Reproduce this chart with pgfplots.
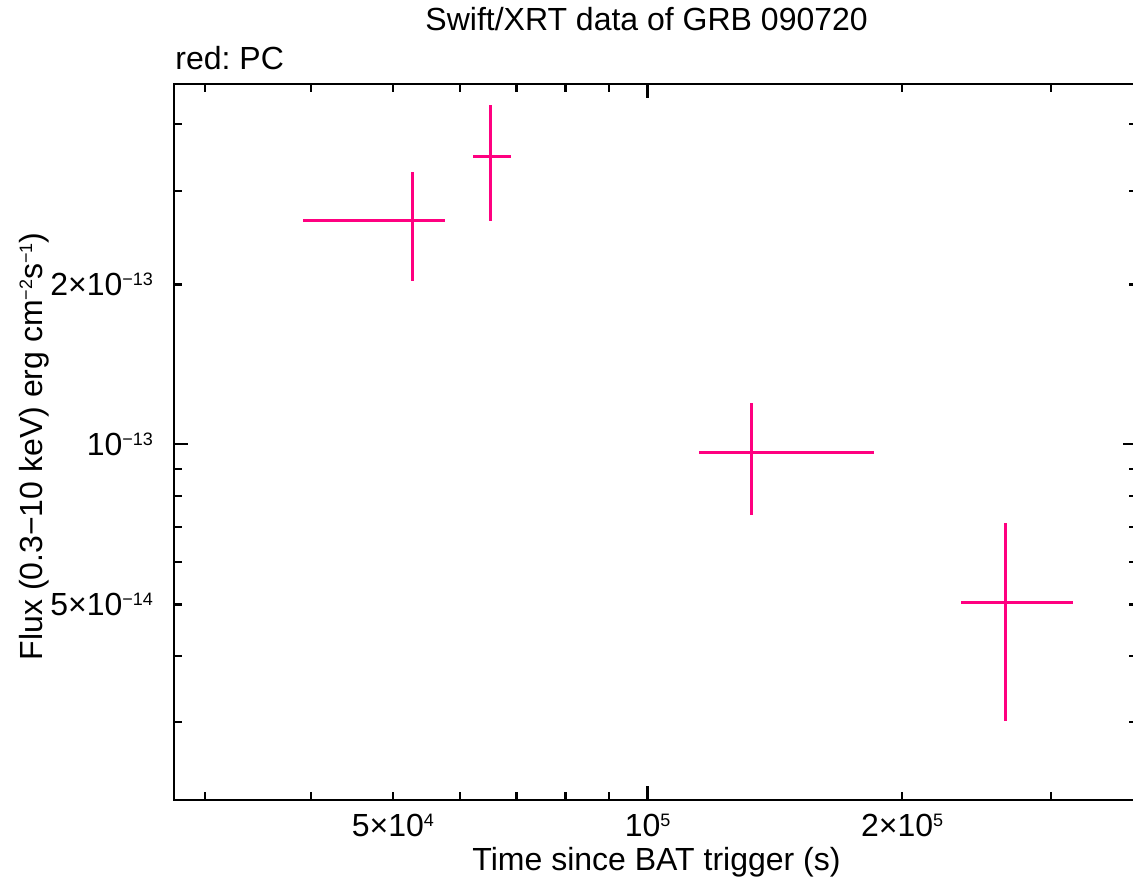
\documentclass[border=0pt]{standalone}
\usepackage{fontspec}
\setmainfont{Liberation Sans}
\usepackage{pgfplots}
\usepackage{pgfplotstable}
\pgfplotsset{compat=1.18}
\frenchspacing
\definecolor{pc}{RGB}{255,0,128}
\newcommand\sups[1]{\raisebox{5pt}{\fontsize{9}{9}\selectfont #1}}
\pgfplotstableread{
x        y          xm       xp       ym         yp
5.268e4  2.642e-13  1.350e4  0.500e4  0.611e-13  0.607e-13
6.513e4  3.486e-13  0.298e4  0.384e4  0.855e-13  0.862e-13
1.328e5  9.643e-14  0.177e5  0.526e5  2.281e-14  2.297e-14
2.651e5  5.035e-14  0.304e5  0.530e5  2.015e-14  2.065e-14
}\pcdata
\begin{document}
\begin{tikzpicture}
\useasboundingbox (0,0) rectangle (566.5pt,443pt);
\begin{axis}[
  at={(87pt,43pt)}, anchor=south west,
  scale only axis, width=481.5pt, height=358pt,
  clip=false,
  xmode=log, ymode=log,
  xmin=2.756e4, xmax=3.79e5, ymin=2.142e-14, ymax=4.763e-13,
  axis line style={line width=1.3pt, black},
  tick style={line width=1.1pt, black},
  tick align=inside,
  xtick pos=both, ytick pos=both,
  xticklabel pos=lower, yticklabel pos=left,
  major tick length=4pt, minor tick length=4pt,
  xtick={5e4,1e5,2e5},
  xticklabels={5×10\sups{4}, 10\sups{5}, 2×10\sups{5}},
  minor xtick={3e4,4e4,6e4,7e4,8e4,9e4,3e5},
  ytick={5e-14,1e-13,2e-13},
  yticklabels={5×10\sups{−14}, 10\sups{−13}, 2×10\sups{−13}},
  minor ytick={3e-14,4e-14,6e-14,7e-14,8e-14,9e-14,3e-13,4e-13},
  extra x ticks={1e5}, extra x tick labels={},
  extra x tick style={major tick length=7pt},
  extra y ticks={1e-13}, extra y tick labels={},
  extra y tick style={major tick length=7pt},
  tick label style={font=\fontsize{16}{16}\selectfont},
  xticklabel style={yshift=-3.5pt},
  yticklabel style={xshift=-7pt},
  label style={font=\fontsize{16}{16}\selectfont},
  xlabel={Time since BAT trigger (s)},
  xlabel style={at={(axis description cs:0.501,-0.0978)}, anchor=base},
  ylabel={Flux (0.3−10 keV) erg cm\sups{−2}s\sups{−1})},
  ylabel style={at={(axis description cs:-0.1371,0.494)}, anchor=base, rotate=0},
  every axis title shift/.style={},
  title={Swift/XRT data of GRB 090720},
  title style={at={(axis description cs:0.4907,1.0586)}, anchor=base, font=\fontsize{16}{16}\selectfont},
]
\addplot[draw=none, mark=none,
  error bars/.cd, x dir=both, x explicit, y dir=both, y explicit,
  error mark=none, error bar style={draw=pc, solid, line width=1.5pt}]
  table[x=x, y=y, x error plus=xp, x error minus=xm, y error plus=yp, y error minus=ym]{\pcdata};
\node[anchor=base west, font=\fontsize{16}{16}\selectfont, inner sep=0pt] at (axis description cs:0.001,1.021) {red: PC};
\end{axis}
\end{tikzpicture}
\end{document}
